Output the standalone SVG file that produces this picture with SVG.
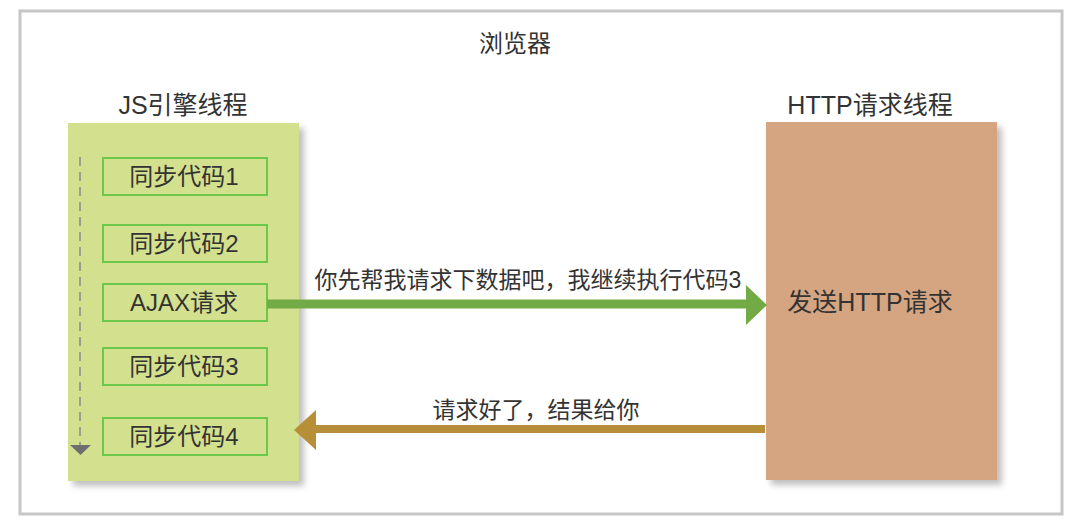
<svg xmlns="http://www.w3.org/2000/svg" width="1080" height="525" viewBox="0 0 1080 525">
<defs>
<filter id="sh" x="-10%" y="-10%" width="130%" height="130%">
<feDropShadow dx="5" dy="5" stdDeviation="3" flood-color="#000" flood-opacity="0.25"/>
</filter>
<style>
text{font-family:"Liberation Sans","Noto Sans CJK SC",sans-serif;fill:#333;}
.t{font-size:24px;text-anchor:middle;}
.h{font-size:25px;}
.m{font-size:23px;}
.box{fill:none;stroke:#6cc84a;stroke-width:2;}
</style>
</defs>
<rect width="1080" height="525" fill="#fff"/>
<rect x="20" y="11" width="1042" height="503" fill="#fff" stroke="#c6c6c6" stroke-width="3"/>
<text class="t" x="515" y="52">浏览器</text>

<g id="js-thread">
<text class="t h" x="183" y="114">JS引擎线程</text>
<rect x="68" y="123" width="231" height="358" fill="#d3e08d" filter="url(#sh)"/>
</g>
<g id="http-thread">
<text class="t h" x="870" y="114">HTTP请求线程</text>
<rect x="766" y="122" width="231" height="358" fill="#d5a582" filter="url(#sh)"/>
<text class="t h" x="870" y="311">发送HTTP请求</text>
</g>
<g id="sync1"><rect class="box" x="103" y="158" width="164" height="37"/><text class="t" x="184" y="185">同步代码1</text></g>
<g id="sync2"><rect class="box" x="103" y="225" width="164" height="37"/><text class="t" x="184" y="252">同步代码2</text></g>
<g id="ajax"><rect class="box" x="103" y="284" width="164" height="37"/><text class="t" x="184" y="311">AJAX请求</text></g>
<g id="sync3"><rect class="box" x="103" y="348" width="164" height="37"/><text class="t" x="184" y="375">同步代码3</text></g>
<g id="sync4"><rect class="box" x="103" y="418" width="164" height="37"/><text class="t" x="184" y="445">同步代码4</text></g>

<g id="connectors">
<line x1="80" y1="157" x2="80" y2="446" stroke="#8a8a8a" stroke-width="1.5" stroke-dasharray="9,6"/>
<polygon points="70,445 91,445 80.5,455" fill="#6e6e6e"/>
<line x1="267" y1="304" x2="748" y2="304" stroke="#72ab46" stroke-width="9"/>
<polygon points="746,285 767,305 746,325" fill="#72ab46"/>
<text class="t m" x="528" y="288">你先帮我请求下数据吧，我继续执行代码3</text>
<line x1="765" y1="429" x2="314" y2="429" stroke="#b88f39" stroke-width="8"/>
<polygon points="316,410 294,430 316,450" fill="#b88f39"/>
<text class="t m" x="536" y="418">请求好了，结果给你</text>
</g>
</svg>
